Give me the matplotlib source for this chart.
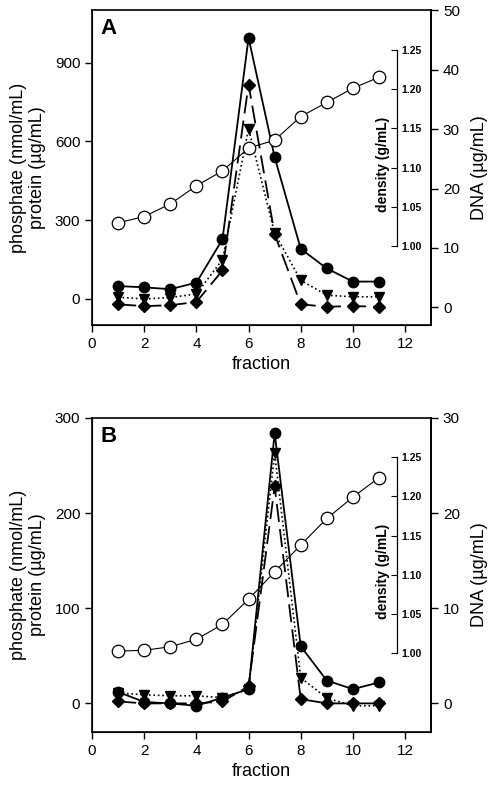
import numpy as np
import matplotlib.pyplot as plt

plt.rcParams['font.family'] = ['Liberation Sans', 'DejaVu Sans']

fraction = np.arange(1, 12)

# panel A
phos_a = np.array([49, 44, 37, 62, 227, 995, 540, 191, 116, 66, 66])
prot_a = np.array([6, 0, 5, 19, 150, 648, 250, 71, 14, 8, 8])
dna_a = np.array([0.5, 0.2, 0.35, 0.9, 6.2, 37.5, 12.3, 0.5, 0.1, 0.2, 0.1])
dens_a = np.array([1.030, 1.038, 1.054, 1.077, 1.096, 1.125, 1.135, 1.165, 1.183, 1.201, 1.215])

# panel B
phos_b = np.array([12, 1.5, 0, -2.5, 6, 15, 284, 60, 24, 15, 22])
prot_b = np.array([11, 9, 8, 8, 6, 15, 263, 27, 5.5, -2.5, -2.5])
dna_b = np.array([0.2, 0.0, 0.0, 0.0, 0.2, 1.8, 22.8, 0.45, 0.0, 0.0, 0.0])
dens_b = np.array([1.003, 1.004, 1.0085, 1.018, 1.037, 1.069, 1.104, 1.138, 1.172, 1.199, 1.224])

left_ticks_a = [0, 300, 600, 900]
left_ticks_b = [0, 100, 200, 300]
dna_ticks_a = [0, 10, 20, 30, 40, 50]
dna_ticks_b = [0, 10, 20, 30]
dens_ticks = [1.00, 1.05, 1.10, 1.15, 1.20, 1.25]
x_ticks = [0, 2, 4, 6, 8, 10, 12]

fig = plt.figure(figsize=(4.95, 7.93), dpi=100)


def panel(rect, letter, phos, prot, dna, dens, ylim, yticks, dlim, dticks):
    ax = fig.add_axes(rect)
    ax.plot(fraction, prot, ':', color='k', lw=1.2, marker='v', ms=7, mfc='k', mec='k')
    ax.plot(fraction, phos, '-', color='k', lw=1.3, marker='o', ms=7.5, mfc='k', mec='k')
    ax.set_xlim(0, 13)
    ax.set_ylim(*ylim)
    ax.set_xticks(x_ticks)
    ax.set_yticks(yticks)
    ax.tick_params(direction='out', length=5, width=1, labelsize=11)
    ax.spines['top'].set_visible(False)
    for s in ax.spines.values():
        s.set_linewidth(1.2)
    ax.set_xlabel('fraction', fontsize=13)
    ax.set_ylabel('phosphate (nmol/mL)\nprotein (µg/mL)', fontsize=13, labelpad=6)
    ax.text(0.025, 0.975, letter, transform=ax.transAxes, fontsize=16,
            fontweight='bold', va='top', ha='left')

    ax2 = ax.twinx()
    ax2.plot(fraction, dna, color='k', lw=1.3, dashes=(10, 4), marker='D', ms=6.5,
             mfc='k', mec='k')
    ax2.set_ylim(*dlim)
    ax2.set_yticks(dticks)
    ax2.tick_params(direction='out', length=5, width=1, labelsize=11)
    ax2.spines['right'].set_linewidth(1.2)
    ax2.spines['top'].set_linewidth(1.2)
    ax2.set_ylabel('DNA (µg/mL)', fontsize=13, labelpad=8)

    ax3 = ax.twinx()
    ax3.plot(fraction, dens, '-', color='k', lw=0.8, marker='o', ms=9,
             mfc='white', mec='k', mew=0.9)
    ax3.set_ylim(0.9, 1.3)
    ax3.spines['right'].set_position(('axes', 0.9))
    ax3.spines['right'].set_bounds(1.0, 1.25)
    ax3.spines['right'].set_linewidth(0.9)
    for s in ['top', 'left', 'bottom']:
        ax3.spines[s].set_visible(False)
    ax3.set_yticks(dens_ticks)
    ax3.set_yticklabels(['%.2f' % d for d in dens_ticks], fontweight='bold')
    ax3.tick_params(direction='in', length=4, width=0.8, labelsize=7.5, pad=3)
    ax3.text(0.858, 0.51, 'density (g/mL)', transform=ax3.transAxes, rotation=90,
             fontsize=10, fontweight='bold', ha='center', va='center')
    return ax


panel([0.186, 0.590, 0.685, 0.397], 'A', phos_a, prot_a, dna_a, dens_a,
      (-100, 1100), left_ticks_a, (-3, 50), dna_ticks_a)
panel([0.186, 0.077, 0.685, 0.396], 'B', phos_b, prot_b, dna_b, dens_b,
      (-30, 300), left_ticks_b, (-3, 30), dna_ticks_b)

fig.savefig('out.png', dpi=100)
